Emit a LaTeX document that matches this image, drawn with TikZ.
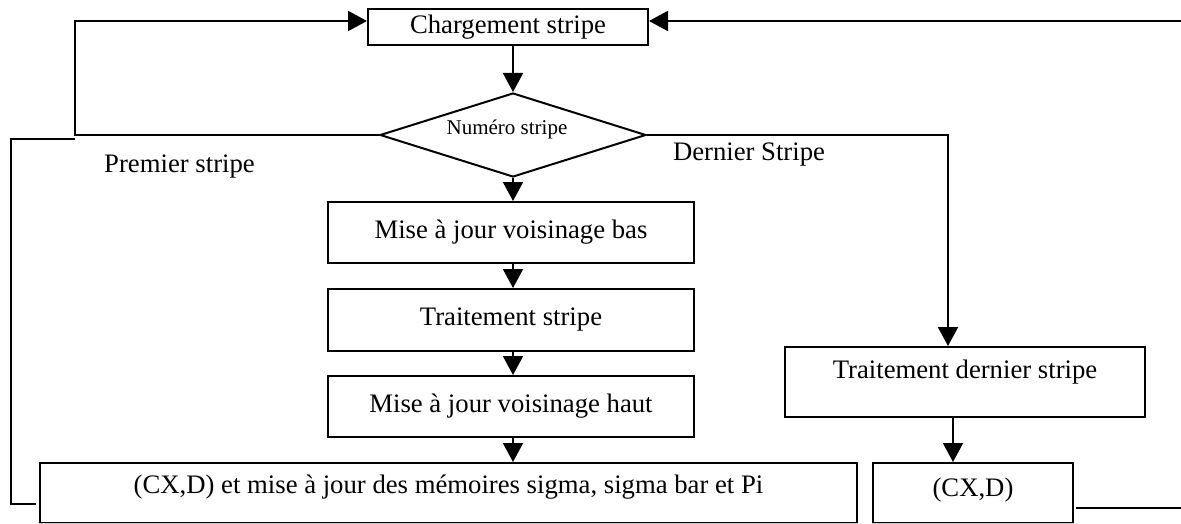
\documentclass[tikz,border=0pt]{standalone}
\usepackage{fontspec}
\setmainfont{Liberation Serif}
\usetikzlibrary{arrows.meta,shapes.geometric}

\tikzset{
  box/.style={draw, line width=2pt, rectangle, inner sep=0pt},
  line/.style={line width=2pt},
  arr/.style={line width=2pt, -{Triangle[length=19pt,width=20pt]}},
  lbl/.style={inner sep=0pt},
}

\begin{document}
\begin{tikzpicture}[x=1pt, y=-1pt, font=\fontsize{26.7pt}{32pt}\selectfont]
\useasboundingbox (0,0) rectangle (1181,524);

% process boxes
\node[box, minimum width=280pt, minimum height=36pt] (chg) at (508,27) {Chargement stripe};
\node[draw, line width=2pt, diamond, inner sep=0pt, minimum width=266pt, minimum height=84pt] (dia) at (513,135) {};
\node[lbl, font=\fontsize{21pt}{25pt}\selectfont] (diatxt) at (507,129) {Numéro stripe};

\node[box, minimum width=366pt, minimum height=61pt] (b1) at (511,232.5) {Mise à jour voisinage bas};
\node[box, minimum width=366pt, minimum height=62pt] (b2) at (511,320) {Traitement stripe};
\node[box, minimum width=366pt, minimum height=61pt] (b3) at (511,406.5) {Mise à jour voisinage haut};
\node[box, minimum width=817pt, minimum height=60pt, text depth=18pt] (bb) at (448.5,493) {(CX,D) et mise à jour des mémoires sigma, sigma bar et Pi};

\node[box, minimum width=360pt, minimum height=70pt, text depth=26pt] (td) at (965,382) {Traitement dernier stripe};
\node[box, minimum width=200pt, minimum height=60pt, text depth=12pt] (cx) at (973,493) {(CX,D)};

% bottom edges fade out at the page border
\draw[gray!40, line width=2pt] (bb.south west) -- (bb.south east);
\draw[gray!40, line width=2pt] (cx.south west) -- (cx.south east);

% branch labels
\node[lbl] (prem) at (179.5,167) {Premier stripe};
\node[lbl] (dern) at (749,155) {Dernier Stripe};

% free ends of the loop connectors
\coordinate (lt) at (75,21);
\coordinate (lj) at (75,139);
\coordinate (rt) at (1181,21);
\coordinate (re) at (1181,508);

% main column
\draw[arr] (chg.south -| dia.north) -- (dia.north);
\draw[arr] (dia.south) -- (dia.south |- b1.north);
\draw[arr] (b1.south -| dia.south) -- (b2.north -| dia.south);
\draw[arr] (b2.south -| dia.south) -- (b3.north -| dia.south);
\draw[arr] (b3.south -| dia.south) -- (bb.north -| dia.south);

% first stripe: back to loading
\draw[arr] (dia.west) -| (lt) -- ([yshift=6pt]chg.west);
\draw[line] ([xshift=-3pt,yshift=-11pt]bb.west) -- ++(-25,0) |- (lj);

% last stripe branch
\draw[arr] (dia.east) -| ([xshift=-17pt]td.north);
\draw[arr] ([xshift=-12pt]td.south) -- ([xshift=-12pt]td.south |- cx.north);
\draw[line] ([xshift=2pt,yshift=-15pt]cx.east) -- (re);
\draw[arr] (rt) -- ([yshift=6pt]chg.east);

\end{tikzpicture}
\end{document}
